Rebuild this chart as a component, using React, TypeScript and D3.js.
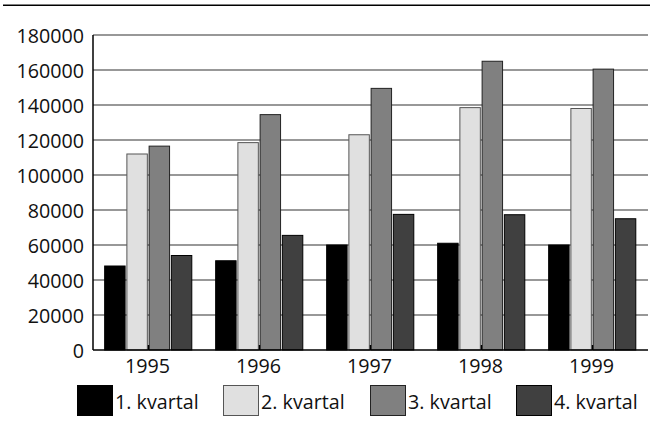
import React from "react";
import * as d3 from "d3";

const years = ["1995", "1996", "1997", "1998", "1999"];
const quarters = ["1. kvartal", "2. kvartal", "3. kvartal", "4. kvartal"];
const q1 = [48000, 51000, 60000, 61000, 60000];
const q2 = [112000, 118500, 123000, 138500, 138000];
const q3 = [116500, 134500, 149500, 165000, 160500];
const q4 = [54000, 65500, 77500, 77300, 75000];
const series = [q1, q2, q3, q4];
const yTicks = [0, 20000, 40000, 60000, 80000, 100000, 120000, 140000, 160000, 180000];

const fills = ["#000000", "#e0e0e0", "#808080", "#404040"];
const strokes = ["#000000", "#555555", "#222222", "#000000"];

export default function App() {
  const W = 650, H = 427;
  const left = 93, right = 648, top = 35, bottom = 350;
  const x0 = d3.scaleBand<string>().domain(years).range([left, right]).padding(0);
  const bw = x0.bandwidth();
  const x1 = d3.scaleBand<string>().domain(quarters).range([bw * 0.105, bw * 0.89]).paddingInner(0.08);
  const y = d3.scaleLinear().domain([0, 180000]).range([bottom, top]);
  const font = "'Open Sans', 'Noto Sans', sans-serif";
  const fs = 19.7;
  const legendX = [77, 223, 370, 516];

  return (
    <svg width={W} height={H} style={{ position: "absolute", left: 0, top: 0, background: "#fff" }} fontFamily={font}>
      <rect x={0} y={0} width={W} height={H} fill="#fff" />
      <line x1={3} x2={650} y1={5.3} y2={5.3} stroke="#000" strokeWidth={1.6} />
      {yTicks.filter(t => t > 0).map(t => (
        <line key={t} x1={left} x2={right} y1={y(t)} y2={y(t)} stroke="#333" strokeWidth={1.2} />
      ))}
      {yTicks.map(t => (
        <text key={"l" + t} x={84} y={y(t) + 7.5} textAnchor="end" fontSize={fs} fill="#111">{t}</text>
      ))}
      {years.map((yr, i) => (
        <g key={yr} transform={`translate(${x0(yr)},0)`}>
          {series.map((s, k) => (
            <rect key={k} x={x1(quarters[k])} y={y(s[i])} width={x1.bandwidth()} height={bottom - y(s[i])}
              fill={fills[k]} stroke={strokes[k]} strokeWidth={1} />
          ))}
          <line x1={bw / 2} x2={bw / 2} y1={bottom} y2={bottom - 5} stroke="#000" strokeWidth={1.5} />
          <text x={bw / 2 - 1} y={373} textAnchor="middle" fontSize={fs} fill="#111">{yr}</text>
        </g>
      ))}
      <line x1={left} x2={left} y1={top} y2={bottom} stroke="#000" strokeWidth={1.5} />
      <line x1={left} x2={right} y1={bottom} y2={bottom} stroke="#000" strokeWidth={1.5} />
      {quarters.map((q, k) => (
        <g key={q}>
          <rect x={legendX[k] + 0.5} y={385.5} width={35} height={30} fill={fills[k]} stroke={strokes[k]} strokeWidth={1} />
          <text x={legendX[k] + 38} y={409} fontSize={fs} fill="#111">{q}</text>
        </g>
      ))}
    </svg>
  );
}
